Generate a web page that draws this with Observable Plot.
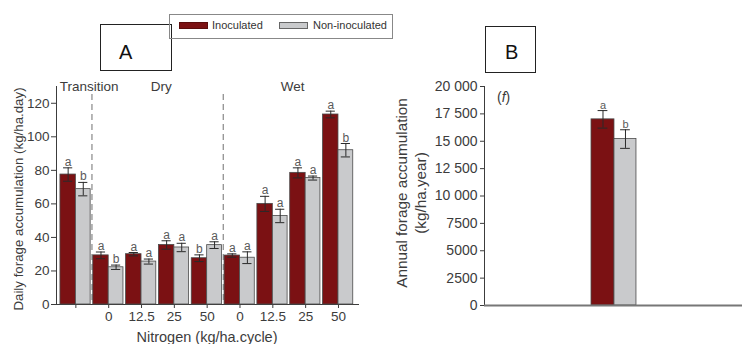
<!DOCTYPE html>
<html>
<head>
<meta charset="utf-8">
<script src="https://cdn.jsdelivr.net/npm/d3@7"></script>
<script src="https://cdn.jsdelivr.net/npm/@observablehq/plot@0.6"></script>
<style>
  html, body { margin: 0; padding: 0; background: #fff; }
  #root { position: relative; width: 742px; height: 344px; overflow: hidden; background: #fff;
          font-family: "Liberation Sans", Arial, sans-serif; color: #3c3c3c; }
  .abs { position: absolute; }
  .rot { white-space: nowrap; transform: translate(-50%, -50%) rotate(-90deg); text-align: center; }
  .box { position: absolute; border: 1px solid #222; box-sizing: border-box; }
  .box span { position: absolute; font-size: 20px; line-height: 20px; color: #111; }
</style>
</head>
<body>
<div id="root">
  <div id="plotA" class="abs" style="left:0;top:0"></div>
  <div id="plotB" class="abs" style="left:380px;top:0"></div>

  <div class="abs rot" style="left:18px;top:199px;font-size:13.3px;">Daily forage accumulation (kg/ha.day)</div>
  <div class="abs" style="left:207px;top:337px;font-size:14.5px;transform:translate(-50%,-50%);white-space:nowrap;">Nitrogen (kg/ha.cycle)</div>

  <div class="abs rot" style="left:411px;top:193px;font-size:15.3px;line-height:19px;">Annual forage accumulation<br>(kg/ha.year)</div>
  <div class="abs" style="left:497px;top:89px;font-size:14px;">(<i>f</i>)</div>

  <div class="box" style="left:100px;top:24px;width:72px;height:47px;"><span style="left:18px;top:17px;">A</span></div>
  <div class="box" style="left:485px;top:26px;width:51px;height:47px;"><span style="left:19px;top:15px;">B</span></div>

  <div id="legend" class="abs" style="left:169px;top:14px;width:224px;height:25px;border:1px solid #888;box-sizing:border-box;font-size:11px;"></div>
</div>
<script>
// ---- data ----
const groups = ["Transition", "Dry 0", "Dry 12.5", "Dry 25", "Dry 50", "Wet 0", "Wet 12.5", "Wet 25", "Wet 50"];
const nitrogenLabels = ["", "0", "12.5", "25", "50", "0", "12.5", "25", "50"];
const series = ["Inoculated", "Non-inoculated"];
const seriesColors = ["#7b1113", "#c9cacc"];

const dailyInoculated = [77.5, 29.3, 30, 35.5, 27.6, 29.2, 60, 78.5, 113.3];
const dailyInoculatedErr = [4, 2, 1, 2.5, 2, 1, 4.5, 3, 2];
const dailyInoculatedLetters = ["a", "a", "a", "a", "b", "a", "a", "a", "a"];
const dailyNonInoculated = [68.8, 22.2, 25.6, 34, 35.4, 27.9, 52.8, 75.4, 92];
const dailyNonInoculatedErr = [4, 1.3, 1.5, 2.5, 2, 3.5, 4, 1.2, 4];
const dailyNonInoculatedLetters = ["b", "b", "a", "a", "a", "a", "a", "a", "b"];

const seasons = ["Transition", "Dry", "Wet"];
const seasonStart = [0, 1, 5];
const seasonEnd = [1, 5, 9];

const yTicksA = [0, 20, 40, 60, 80, 100, 120];

const annualGroups = ["Annual"];
const annualInoculated = [17000];
const annualInoculatedErr = [800];
const annualInoculatedLetters = ["a"];
const annualNonInoculated = [15200];
const annualNonInoculatedErr = [850];
const annualNonInoculatedLetters = ["b"];
const yTicksB = [0, 2500, 5000, 7500, 10000, 12500, 15000, 17500, 20000];

// ---- layout helpers (bar placement within a group) ----
const barFrac = [[0.02, 0.49], [0.49, 0.94]];
const centerOf = d => d.i + (barFrac[d.k][0] + barFrac[d.k][1]) / 2;

function buildRows(gs, vI, eI, lI, vN, eN, lN) {
  return gs.flatMap((g, i) => series.map((s, k) => ({
    group: g, i, series: s, k,
    value: k ? vN[i] : vI[i],
    err: k ? eN[i] : eI[i],
    letter: k ? lN[i] : lI[i]
  })));
}

const rowsA = buildRows(groups, dailyInoculated, dailyInoculatedErr, dailyInoculatedLetters,
                        dailyNonInoculated, dailyNonInoculatedErr, dailyNonInoculatedLetters);
const rowsB = buildRows(annualGroups, annualInoculated, annualInoculatedErr, annualInoculatedLetters,
                        annualNonInoculated, annualNonInoculatedErr, annualNonInoculatedLetters);

function barMarks(rows, capHalf, letterSize) {
  return [
    Plot.rect(rows, {
      x1: d => d.i + barFrac[d.k][0], x2: d => d.i + barFrac[d.k][1],
      y1: () => 0, y2: "value", fill: "series", stroke: "#4a4a4a", strokeWidth: 0.8
    }),
    Plot.ruleX(rows, {x: centerOf, y1: d => d.value - d.err, y2: d => d.value + d.err, stroke: "#2a2a2a", strokeWidth: 1}),
    Plot.ruleY(rows, {y: d => d.value + d.err, x1: d => centerOf(d) - capHalf, x2: d => centerOf(d) + capHalf, stroke: "#2a2a2a", strokeWidth: 1}),
    Plot.ruleY(rows, {y: d => d.value - d.err, x1: d => centerOf(d) - capHalf, x2: d => centerOf(d) + capHalf, stroke: "#2a2a2a", strokeWidth: 1}),
    Plot.text(rows, {x: centerOf, y: d => d.value + d.err, text: "letter", lineAnchor: "bottom", dy: -2, fill: "#5a5a5a", fontSize: letterSize})
  ];
}

const colorScale = {domain: series, range: seriesColors};

// ---- Panel A ----
const seasonRows = seasons.map((s, j) => ({label: s, start: seasonStart[j], end: seasonEnd[j]}));
const boundaries = seasonStart.slice(1).map(s => s - 0.02);

const plotA = Plot.plot({
  width: 400, height: 344,
  marginLeft: 56, marginRight: 42, marginTop: 86, marginBottom: 40,
  style: {fontFamily: "'Liberation Sans', Arial, sans-serif", fontSize: "13.5px", color: "#3c3c3c", background: "transparent", overflow: "visible"},
  x: {domain: [-0.1, 9.1], ticks: groups.map((g, i) => i + 0.49), tickFormat: d => nitrogenLabels[Math.round(d - 0.49)],
      tickSize: 4, tickPadding: 3, label: null, line: true},
  y: {domain: [0, 130], ticks: yTicksA, tickSize: 5, tickPadding: 2, label: null, line: true},
  color: colorScale,
  marks: [
    Plot.ruleX(boundaries, {x: d => d, stroke: "#888", strokeWidth: 1.2, strokeDasharray: "6,4", insetTop: 8}),
    ...barMarks(rowsA, 0.14, 12),
    Plot.text(seasonRows.filter(d => d.start === 0), {x: "start", text: "label", frameAnchor: "top", textAnchor: "start", lineAnchor: "middle", dy: 0, fontSize: 13.5, fill: "#3c3c3c"}),
    Plot.text(seasonRows.filter(d => d.start !== 0), {x: d => (d.start + d.end) / 2, text: "label", frameAnchor: "top", lineAnchor: "middle", dx: 3, dy: 0, fontSize: 13.5, fill: "#3c3c3c"})
  ]
});
document.getElementById("plotA").appendChild(plotA);

// ---- Panel B ----
const plotB = Plot.plot({
  width: 362, height: 344,
  marginLeft: 104, marginRight: 0, marginTop: 86, marginBottom: 39,
  style: {fontFamily: "'Liberation Sans', Arial, sans-serif", fontSize: "14px", color: "#3c3c3c", background: "transparent", overflow: "visible"},
  x: {domain: [-2.17, 3.11], axis: null},
  y: {domain: [0, 20000], ticks: yTicksB, tickFormat: d => d >= 10000 ? d3.format(",")(d).replace(",", " ") : String(d),
      tickSize: 4, tickPadding: 3, label: null, line: true},
  color: colorScale,
  marks: [
    ...barMarks(rowsB, 0.1, 11),
    Plot.ruleY([0], {stroke: "#777", strokeWidth: 2})
  ]
});
document.getElementById("plotB").appendChild(plotB);

// ---- Legend ----
const legend = document.getElementById("legend");
const legendPos = [[9, 42], [109, 143]];
series.forEach((s, k) => {
  const sw = document.createElement("div");
  sw.style.cssText = `position:absolute;left:${legendPos[k][0]}px;top:7px;width:29px;height:7px;background:${seriesColors[k]};border:1px solid ${k ? "#666" : "#5a0c0c"};box-sizing:border-box;`;
  legend.appendChild(sw);
  const tx = document.createElement("div");
  tx.textContent = s;
  tx.style.cssText = `position:absolute;left:${legendPos[k][1]}px;top:4px;line-height:13px;white-space:nowrap;color:#333;`;
  legend.appendChild(tx);
});
</script>
</body>
</html>
